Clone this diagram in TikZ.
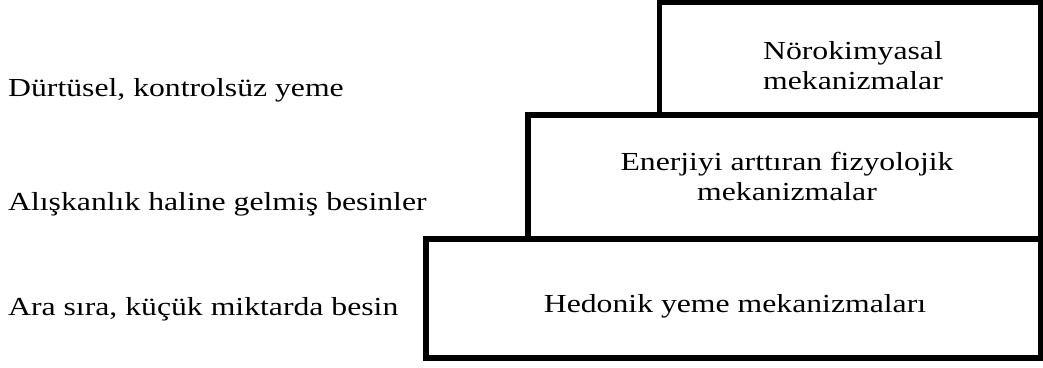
\documentclass[tikz,border=0pt]{standalone}
\usepackage{fontspec}
\setmainfont{Liberation Serif}[FakeStretch=1.22]
\tikzset{
    tier/.style = {
        draw,
        line width = 5.5pt,
        fill = white,
        inner sep = 0pt,
        outer sep = 0pt,
        anchor = north east,
        },
    tier text/.style = {
        font = \fontsize{26}{30}\selectfont,
        align = center,
        inner sep = 0pt,
        },
    level/.style = {
        font = \fontsize{26}{30}\selectfont,
        inner sep = 0pt,
        anchor = base west,
        },
}
\begin{document}
\begin{tikzpicture}[x=1pt, y=1pt]
    \useasboundingbox (0,0) rectangle (1043,367);

    % stacked boxes
    \node [tier, minimum width=615pt, minimum height=119pt] (hedonic) at (1041,128) {};
    \node [tier, minimum width=513pt, minimum height=124pt] (energy) at (1041,252) {};
    \node [tier, minimum width=381.5pt, minimum height=113pt] (neuro) at (1041,365) {};

    % box texts
    \node [tier text, anchor=center] (neurotxt) at (853,301.5) {Nörokimyasal\\mekanizmalar};
    \node [tier text, anchor=center] (energytxt) at (787,191) {Enerjiyi arttıran fizyolojik\\mekanizmalar};
    \node [tier text, anchor=base] (hedonictxt) at (735,55) {Hedonik yeme mekanizmaları};

    % levels on the left
    \node [level] (impulsive) at (8,270) {Dürtüsel, kontrolsüz yeme};
    \node [level] (habitual) at (8,156) {Alışkanlık haline gelmiş besinler};
    \node [level] (occasional) at (8,52) {Ara sıra, küçük miktarda besin};
\end{tikzpicture}
\end{document}
